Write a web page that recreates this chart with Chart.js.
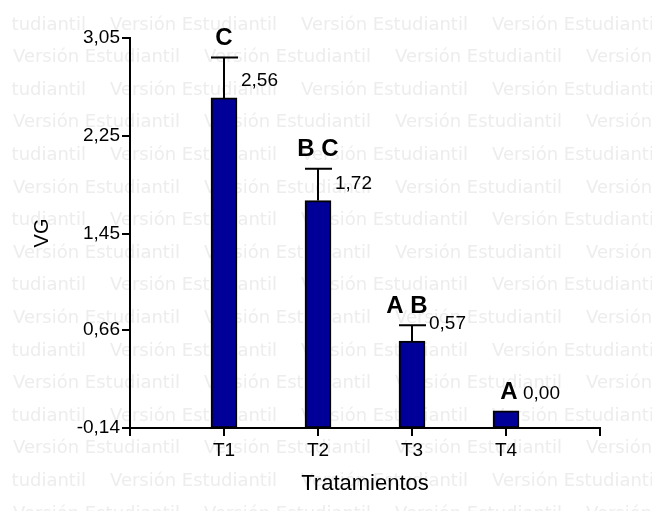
<!DOCTYPE html>
<html>
<head>
<meta charset="utf-8">
<script src="https://cdn.jsdelivr.net/npm/chart.js@4.4.1/dist/chart.umd.min.js"></script>
<style>
  html, body { margin: 0; padding: 0; background: #fff; }
  #wrap { width: 652px; height: 511px; position: relative; }
</style>
</head>
<body>
<div id="wrap"><canvas id="c" width="652" height="511"></canvas></div>
<script>
// ---- data ----
const categories = ['T1', 'T2', 'T3', 'T4'];
const vgValues = [2.56, 1.72, 0.57, 0.00];
const vgErrors = [0.33, 0.26, 0.13, 0.00];
const groupLetters = ['C', 'B C', 'A B', 'A'];
const yTickValues = [-0.14, 0.66, 1.45, 2.25, 3.05];
const yAxisTitle = 'VG';
const xAxisTitle = 'Tratamientos';
const watermarkText = 'Versión Estudiantil';

const yMin = yTickValues[0];
const yMax = yTickValues[yTickValues.length - 1];
const fmt = v => v.toFixed(2).replace('.', ',');
const FONT = '"Liberation Sans", Arial, sans-serif';

const watermarkPlugin = {
  id: 'watermark',
  beforeDraw(chart) {
    const ctx = chart.ctx;
    ctx.save();
    ctx.fillStyle = '#ffffff';
    ctx.fillRect(0, 0, chart.width, chart.height);
    ctx.beginPath();
    ctx.rect(12, 0, chart.width - 12, chart.height);
    ctx.clip();
    ctx.font = '16px "DejaVu Sans"';
    const w16 = ctx.measureText(watermarkText).width;
    const size = 16 * 167 / w16;
    ctx.font = size.toFixed(2) + 'px "DejaVu Sans"';
    ctx.fillStyle = '#ededed';
    ctx.textBaseline = 'middle';
    ctx.textAlign = 'left';
    const period = 191;
    for (let k = 0; k < 17; k++) {
      const y = 25 + 32.6 * k;
      const start = (k % 2 === 0) ? 110 - 2 * period : 13 - period;
      for (let x = start; x < chart.width; x += period) {
        ctx.fillText(watermarkText, x, y);
      }
    }
    ctx.restore();
  }
};

const annotatePlugin = {
  id: 'annotate',
  afterDatasetsDraw(chart) {
    const ctx = chart.ctx;
    const xs = chart.scales.x, ys = chart.scales.y;
    const letterShift = [0, 0, -5, 3];
    ctx.save();
    vgValues.forEach((v, i) => {
      const cx = xs.getPixelForValue(i + 1);
      const top = ys.getPixelForValue(v);
      const err = vgErrors[i];
      let capY = top;
      if (err > 0) {
        capY = ys.getPixelForValue(v + err);
        ctx.strokeStyle = '#000';
        ctx.lineWidth = 2;
        ctx.beginPath();
        ctx.moveTo(cx, top);
        ctx.lineTo(cx, capY);
        ctx.moveTo(cx - 13, capY);
        ctx.lineTo(cx + 14, capY);
        ctx.stroke();
      }
      ctx.fillStyle = '#000';
      ctx.textBaseline = 'middle';
      ctx.textAlign = 'center';
      ctx.font = 'bold 24px ' + FONT;
      ctx.fillText(groupLetters[i], cx + letterShift[i], capY - 19);
      ctx.textAlign = 'left';
      ctx.font = '19px ' + FONT;
      ctx.fillText(fmt(v), cx + 17, top - 17);
    });
    ctx.restore();
  }
};

new Chart(document.getElementById('c'), {
  type: 'bar',
  data: {
    datasets: [{
      data: vgValues.map((v, i) => ({ x: i + 1, y: [yMin, v] })),
      backgroundColor: '#000099',
      borderColor: '#000000',
      borderWidth: 2,
      borderSkipped: false,
      barThickness: 26
    }]
  },
  plugins: [watermarkPlugin, annotatePlugin],
  options: {
    responsive: false,
    animation: false,
    layout: { padding: { top: 38, right: 52, left: 0, bottom: 0 } },
    plugins: { legend: { display: false }, tooltip: { enabled: false } },
    scales: {
      x: {
        type: 'linear',
        offset: false,
        min: 0,
        max: categories.length + 1,
        afterBuildTicks(scale) {
          const t = [];
          for (let i = 0; i <= categories.length + 1; i++) t.push({ value: i });
          scale.ticks = t;
        },
        afterFit(scale) { scale.height = 83; },
        ticks: {
          callback: v => categories[v - 1] || '',
          color: '#000',
          font: { family: FONT, size: 19 },
          padding: 3,
          maxRotation: 0,
          autoSkip: false
        },
        grid: { offset: false, drawOnChartArea: false, drawTicks: true, tickLength: 8, tickColor: '#000', lineWidth: 2 },
        border: { display: true, color: '#000', width: 2 },
        title: {
          display: true,
          text: xAxisTitle,
          color: '#000',
          font: { family: FONT, size: 22 },
          padding: { top: 0, bottom: 14 }
        }
      },
      y: {
        min: yMin,
        max: yMax,
        afterBuildTicks(scale) { scale.ticks = yTickValues.map(v => ({ value: v })); },
        afterFit(scale) { scale.width = 130; },
        ticks: {
          callback: v => fmt(v),
          color: '#000',
          font: { family: FONT, size: 19 },
          padding: 2
        },
        grid: { drawOnChartArea: false, drawTicks: true, tickLength: 8, tickColor: '#000', lineWidth: 2 },
        border: { display: true, color: '#000', width: 2 },
        title: {
          display: true,
          text: yAxisTitle,
          color: '#000',
          font: { family: FONT, size: 20 },
          padding: { top: 30, bottom: 0 }
        }
      }
    }
  }
});
</script>
</body>
</html>
